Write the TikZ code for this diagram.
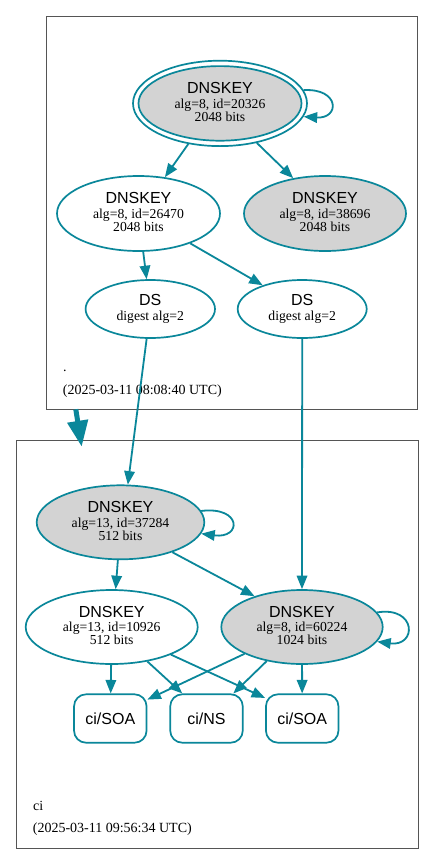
\documentclass[tikz,border=0pt]{standalone}
\usepackage{fontspec}
\setmainfont{Liberation Serif}
\newfontfamily\hvf{Liberation Sans}
\usetikzlibrary{shapes.geometric,arrows.meta}
\definecolor{sec}{RGB}{10,135,154}
\definecolor{keyfill}{RGB}{211,211,211}
\definecolor{clu}{RGB}{85,85,85}
\newcommand\keylines[2]{{\hvf\fontsize{16}{16}\selectfont DNSKEY}\\[1.5pt]#1\\#2\rule[-3pt]{0pt}{3pt}}
\begin{document}
\begin{tikzpicture}[x=1pt,y=-1pt,
  key/.style={ellipse, draw=sec, line width=1.7pt, inner sep=0pt, align=center,
    font=\fontsize{13.7}{13}\selectfont},
  dsnode/.style={key},
  rrset/.style={rectangle, rounded corners=12pt, draw=sec, line width=1.7pt,
    minimum width=72.5pt, minimum height=48.4pt, inner sep=0pt,
    font=\hvf\fontsize{16}{16}\selectfont},
  cluster/.style={rectangle, draw=clu, line width=0.9pt, inner sep=0pt},
  clulabel/.style={inner sep=0pt, anchor=base west, font=\fontsize{14}{14}\selectfont},
  arr/.style={draw=sec, line width=1.8pt, -{Triangle[length=13.5pt,width=10.5pt]}},
  thickarr/.style={draw=sec, line width=5pt, -{Triangle[length=26pt,width=20pt]}}
]
\useasboundingbox (0,0) rectangle (435,865);
\fill[white] (0,0) rectangle (435,865);

% clusters
\node[cluster, minimum width=371pt, minimum height=393pt] (zoneroot) at (231.5,212.5) {};
\node[cluster, minimum width=402pt, minimum height=407.5pt] (zoneci) at (217,644.25) {};

\node[clulabel] (rootname) at (63,371.5) {.};
\node[clulabel] (rootdate) at (62.7,394) {(2025-03-11 08:08:40 UTC)};
\node[clulabel] (ciname) at (33,810.5) {ci};
\node[clulabel] (cidate) at (32.7,832.5) {(2025-03-11 09:56:34 UTC)};

% root zone keys
\node[key, minimum width=174pt, minimum height=85.4pt] (kskout) at (220,103.4) {};
\node[key, fill=keyfill, minimum width=163pt, minimum height=74.6pt] (ksk) at (220,103.4)
  {\keylines{alg=8, id=20326}{2048 bits}};
\node[key, minimum width=163pt, minimum height=75pt] (k26470) at (138.5,213.5)
  {\keylines{alg=8, id=26470}{2048 bits}};
\node[key, fill=keyfill, minimum width=162pt, minimum height=75pt] (k38696) at (325,213.5)
  {\keylines{alg=8, id=38696}{2048 bits}};
\node[dsnode, minimum width=129.4pt, minimum height=58pt] (ds1) at (150.3,309)
  {{\hvf\fontsize{16}{16}\selectfont DS}\\[1.5pt]digest alg=2};
\node[dsnode, minimum width=129pt, minimum height=58pt] (ds2) at (302.2,309)
  {{\hvf\fontsize{16}{16}\selectfont DS}\\[1.5pt]digest alg=2};

% ci zone keys
\node[key, fill=keyfill, minimum width=167.6pt, minimum height=74pt] (k37284) at (120.5,522.3)
  {\keylines{alg=13, id=37284}{512 bits}};
\node[key, minimum width=172pt, minimum height=74pt] (k10926) at (111.7,627)
  {\keylines{alg=13, id=10926}{512 bits}};
\node[key, fill=keyfill, minimum width=161.4pt, minimum height=74pt] (k60224) at (302,627)
  {\keylines{alg=8, id=60224}{1024 bits}};

\node[rrset] (soa1) at (110.3,718.5) {ci/SOA};
\node[rrset] (ns) at (206.5,718.5) {ci/NS};
\node[rrset] (soa2) at (302.2,718.5) {ci/SOA};

% root zone edges
\draw[arr] (kskout.9) .. controls (340,88) and (340,119) .. (kskout.-9);
\draw[arr] (kskout.232.6) -- (k26470.54.5);
\draw[arr] (kskout.313.8) -- (k38696.132.5);
\draw[arr] (k26470.277.2) -- (ds1.97.2);
\draw[arr] (k26470.330) -- (ds2.149);

% delegation
\coordinate (delegfrom) at (75.8,409.3);
\coordinate (delegto) at (81.7,446.7);
\draw[thickarr] (delegfrom) -- (delegto);
\draw[arr] (ds1.263) -- (k37284.79.2);
\draw[arr] (ds2.270) -- (k60224.90);

% ci zone edges
\draw[arr] (k37284.8.4) .. controls (242,506) and (242,539) .. (k37284.-8.8);
\draw[arr] (k60224.11.8) .. controls (417,606) and (417,647) .. (k60224.-11.1);
\draw[arr] (k37284.266.7) -- (k10926.84.3);
\draw[arr] (k37284.330.8) -- (k60224.147.7);
\draw[arr] (k10926) -- (soa1);
\draw[arr] (k10926.316.5) -- (ns.134.5);
\draw[arr] (k10926.335) -- (soa2.151.4);
\draw[arr] (k60224.205.5) -- (soa1.27.2);
\draw[arr] (k60224.224.5) -- (ns.43.8);
\draw[arr] (k60224) -- (soa2);
\end{tikzpicture}
\end{document}
